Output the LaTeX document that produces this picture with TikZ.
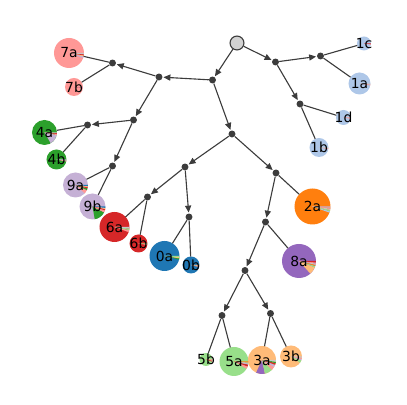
\documentclass[tikz,border=0pt]{standalone}
\usepackage{fontspec}
\setmainfont{DejaVu Sans}
\usepackage{tikz}
\usetikzlibrary{arrows.meta, shapes.geometric}
\definecolor{tabblue}{HTML}{1F77B4}
\definecolor{tablightblue}{HTML}{AEC7E8}
\definecolor{taborange}{HTML}{FF7F0E}
\definecolor{tablightorange}{HTML}{FFBB78}
\definecolor{tabgreen}{HTML}{2CA02C}
\definecolor{tablightgreen}{HTML}{98DF8A}
\definecolor{tabred}{HTML}{D62728}
\definecolor{tabpink}{HTML}{FF9896}
\definecolor{tabpurple}{HTML}{9467BD}
\definecolor{tablightpurple}{HTML}{C5B0D5}
\definecolor{tablightgrey}{HTML}{C7C7C7}
\definecolor{edgegrey}{HTML}{3C3C3C}
\tikzset{
    dot_node/.style={circle, fill=edgegrey, draw=none, inner sep=0pt, minimum size=5pt},
    root_node/.style={circle, fill=gray!35, draw=edgegrey, line width=0.8pt, inner sep=0pt, minimum size=10pt},
    leaf_node/.style={circle, draw=none, inner sep=0pt, outer sep=0pt},
    leaf_label/.style={inner sep=0pt, font=\fontsize{10}{12}\selectfont},
    arrow/.style={-{Triangle[length=5pt, width=4.4pt]}, line width=0.8pt, draw=edgegrey, shorten >=0.5pt},
    link/.style={line width=0.8pt, draw=edgegrey}
}
% slices of a pie: node, radius in px, list of start/end/colour
\newcommand{\pieslices}[3]{%
    \foreach \sa/\ea/\sc in {#3} {
        \fill[\sc] (#1.center) -- ++(\sa:{#2*0.72pt}) arc[start angle=\sa, end angle=\ea, radius={#2*0.72pt}] -- cycle;
    }
}
\begin{document}
\begin{tikzpicture}[x=0.72pt, y=0.72pt]
    \useasboundingbox (0,0) rectangle (407,405);

    % inner points of the tree
    \node (root) [root_node] at (237,362) {};
    \node (r1) [dot_node] at (212.5,325) {};
    \node (r2) [dot_node] at (275.5,343) {};
    \node (r3) [dot_node] at (320.5,349) {};
    \node (r4) [dot_node] at (300,301) {};
    \node (r5) [dot_node] at (232,271) {};
    \node (r6) [dot_node] at (276,232) {};
    \node (pa) [dot_node] at (159,328) {};
    \node (pb) [dot_node] at (112.5,342) {};
    \node (pc) [dot_node] at (133.5,285) {};
    \node (pd) [dot_node] at (87.5,280) {};
    \node (pe) [dot_node] at (112.5,239) {};
    \node (pf) [dot_node] at (185,238) {};
    \node (pg) [dot_node] at (147.5,208) {};
    \node (ph) [dot_node] at (189,188) {};
    \node (pi) [dot_node] at (265.5,183) {};
    \node (pj) [dot_node] at (245,134.5) {};
    \node (pk) [dot_node] at (222,89.5) {};
    \node (pl) [dot_node] at (270.5,91.5) {};

    % leaves
    \node (l7a) [leaf_node, fill=tabpink, minimum size=30*0.72pt] at (69,352) {};
    \node (l7b) [leaf_node, fill=tabpink, minimum size=18*0.72pt] at (74,318) {};
    \node (l4a) [leaf_node, fill=tabgreen, minimum size=25*0.72pt] at (44.5,272.5) {};
    \node (l4b) [leaf_node, fill=tabgreen, minimum size=20*0.72pt] at (56.5,245.5) {};
    \node (l9a) [leaf_node, fill=tablightpurple, minimum size=25*0.72pt] at (75.5,220) {};
    \node (l9b) [leaf_node, fill=tablightpurple, minimum size=26*0.72pt] at (92.5,198.5) {};
    \node (l6a) [leaf_node, fill=tabred, minimum size=30*0.72pt] at (114.5,178) {};
    \node (l6b) [leaf_node, fill=tabred, minimum size=18*0.72pt] at (138.5,161.5) {};
    \node (l0a) [leaf_node, fill=tabblue, minimum size=30*0.72pt] at (164.5,149) {};
    \node (l0b) [leaf_node, fill=tabblue, minimum size=17*0.72pt] at (191,140) {};
    \node (l1c) [leaf_node, fill=tablightblue, minimum size=14*0.72pt] at (364,361.5) {};
    \node (l1a) [leaf_node, fill=tablightblue, minimum size=22*0.72pt] at (359.5,321.5) {};
    \node (l1d) [leaf_node, fill=tablightblue, minimum size=15*0.72pt] at (343.5,287.5) {};
    \node (l1b) [leaf_node, fill=tablightblue, minimum size=19*0.72pt] at (319,257.5) {};
    \node (l2a) [leaf_node, fill=taborange, minimum size=36*0.72pt] at (312.5,198.5) {};
    \node (l8a) [leaf_node, fill=tabpurple, minimum size=34*0.72pt] at (299,144) {};
    \node (l5b) [leaf_node, fill=tablightgreen, minimum size=13*0.72pt] at (206,45.5) {};
    \node (l5a) [leaf_node, fill=tablightgreen, minimum size=29*0.72pt] at (234,43.5) {};
    \node (l3a) [leaf_node, fill=tablightorange, minimum size=28*0.72pt] at (262,45) {};
    \node (l3b) [leaf_node, fill=tablightorange, minimum size=22*0.72pt] at (291,48.5) {};

    \pieslices{l7a}{15}{340/347/tablightpurple, 347/351/tablightorange, 351/355/tabred, 355/360/tablightgrey}
    \pieslices{l7b}{9}{352/356/tabred, 356/360/tablightpurple}
    \pieslices{l4a}{12.5}{300/348/tablightpurple, 348/353/tabpink, 353/357/tabred, 357/360/tablightgrey}
    \pieslices{l4b}{10}{348/354/tabpink, 354/360/tablightpurple}
    \pieslices{l9a}{12.5}{318/336/tabpink, 336/344/tabgreen, 344/350/tabred, 350/355/tablightorange, 355/360/tabblue}
    \pieslices{l9b}{13}{280/333/tabgreen, 333/343/tabpink, 343/349/tabred, 349/354/tablightorange, 354/360/tabblue}
    \pieslices{l6a}{15}{340/348/tabpink, 348/354/tablightgreen, 354/360/tablightgrey}
    \pieslices{l6b}{9}{350/355/tabpink, 355/360/tablightgreen}
    \pieslices{l0a}{15}{346/351/tabgreen, 351/355/tablightorange, 355/360/tablightgreen}
    \pieslices{l0b}{8.5}{345/352/tabpink, 352/360/tablightorange}
    \pieslices{l1c}{7}{350/355/tabpink, 355/360/tabred}
    \pieslices{l1a}{11}{350/355/tabpink, 355/360/tablightgrey}
    \pieslices{l1d}{7.5}{350/360/tabpink}
    \pieslices{l1b}{9.5}{350/355/tabpink, 355/360/tablightgrey}
    \pieslices{l2a}{18}{340/345/tablightblue, 345/349/tablightgreen, 349/353/tablightgrey, 353/356/tabpink, 356/360/tablightpurple}
    \pieslices{l8a}{17}{312/338/tablightorange, 338/343/tablightgreen, 343/347/taborange, 347/351/tablightgrey, 351/355/tabpink, 355/360/tabred}
    \pieslices{l5b}{6.5}{340/350/tabred, 350/360/tabpink}
    \pieslices{l5a}{14.5}{330/340/tabpink, 340/348/tabred, 348/352/tablightpurple, 352/356/tablightgrey, 356/360/taborange}
    \pieslices{l3a}{14}{245/282/tabpurple, 282/315/tablightgreen, 315/330/tabpink, 330/340/tablightpurple, 340/347/tabred, 347/353/tabgreen, 353/360/tablightgrey}
    \pieslices{l3b}{11}{325/340/tablightgreen, 340/348/tablightpurple, 348/354/tabpink, 354/360/tablightgrey}

    % labels
    \node (t7a) [leaf_label] at (l7a) {7a};
    \node (t7b) [leaf_label] at (l7b) {7b};
    \node (t4a) [leaf_label] at (l4a) {4a};
    \node (t4b) [leaf_label] at (l4b) {4b};
    \node (t9a) [leaf_label] at (l9a) {9a};
    \node (t9b) [leaf_label] at (l9b) {9b};
    \node (t6a) [leaf_label] at (l6a) {6a};
    \node (t6b) [leaf_label] at (l6b) {6b};
    \node (t0a) [leaf_label] at (l0a) {0a};
    \node (t0b) [leaf_label] at (l0b) {0b};
    \node (t1c) [leaf_label] at (l1c) {1c};
    \node (t1a) [leaf_label] at (l1a) {1a};
    \node (t1d) [leaf_label] at (l1d) {1d};
    \node (t1b) [leaf_label] at (l1b) {1b};
    \node (t2a) [leaf_label] at (l2a) {2a};
    \node (t8a) [leaf_label] at (l8a) {8a};
    \node (t5b) [leaf_label] at (l5b) {5b};
    \node (t5a) [leaf_label] at (l5a) {5a};
    \node (t3a) [leaf_label] at (l3a) {3a};
    \node (t3b) [leaf_label] at (l3b) {3b};

    % arrows between inner points
    \draw [arrow] (root) -- (r1);
    \draw [arrow] (root) -- (r2);
    \draw [arrow] (r2) -- (r3);
    \draw [arrow] (r2) -- (r4);
    \draw [arrow] (r1) -- (pa);
    \draw [arrow] (r1) -- (r5);
    \draw [arrow] (pa) -- (pb);
    \draw [arrow] (pa) -- (pc);
    \draw [arrow] (pc) -- (pd);
    \draw [arrow] (pc) -- (pe);
    \draw [arrow] (r5) -- (pf);
    \draw [arrow] (r5) -- (r6);
    \draw [arrow] (pf) -- (pg);
    \draw [arrow] (pf) -- (ph);
    \draw [arrow] (r6) -- (pi);
    \draw [arrow] (pi) -- (pj);
    \draw [arrow] (pj) -- (pk);
    \draw [arrow] (pj) -- (pl);

    % links to leaves
    \draw [link] (r3) -- (l1c);
    \draw [link] (r3) -- (l1a);
    \draw [link] (r4) -- (l1d);
    \draw [link] (r4) -- (l1b);
    \draw [link] (pb) -- (l7a);
    \draw [link] (pb) -- (l7b);
    \draw [link] (pd) -- (l4a);
    \draw [link] (pd) -- (l4b);
    \draw [link] (pe) -- (l9a);
    \draw [link] (pe) -- (l9b);
    \draw [link] (pg) -- (l6a);
    \draw [link] (pg) -- (l6b);
    \draw [link] (ph) -- (l0a);
    \draw [link] (ph) -- (l0b);
    \draw [link] (r6) -- (l2a);
    \draw [link] (pi) -- (l8a);
    \draw [link] (pk) -- (l5b);
    \draw [link] (pk) -- (l5a);
    \draw [link] (pl) -- (l3a);
    \draw [link] (pl) -- (l3b);
\end{tikzpicture}
\end{document}
